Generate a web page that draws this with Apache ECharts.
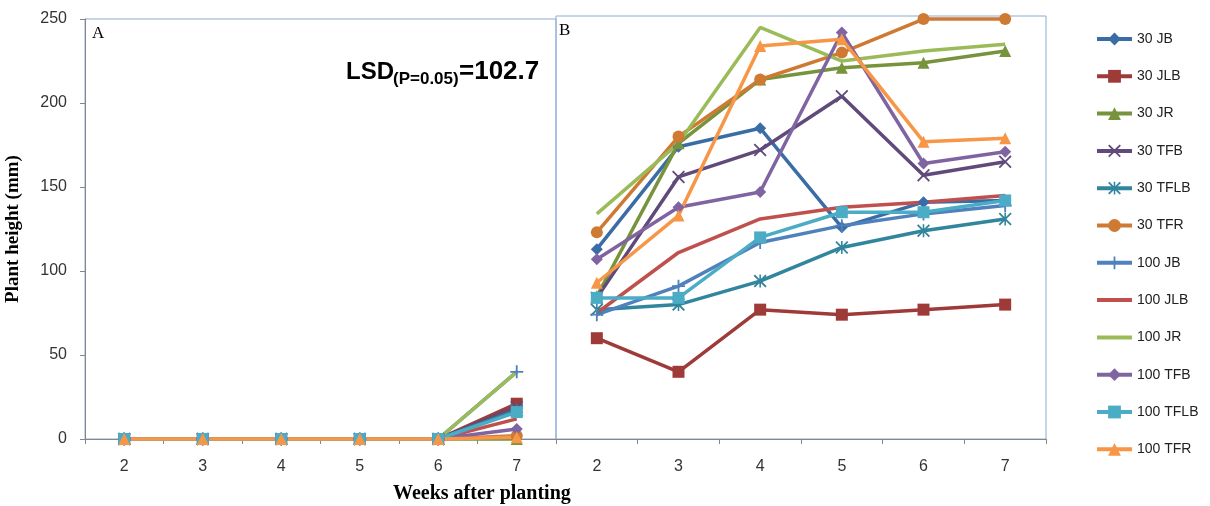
<!DOCTYPE html>
<html>
<head>
<meta charset="utf-8">
<script src="https://cdn.jsdelivr.net/npm/echarts@6/dist/echarts.min.js"></script>
<style>
  html, body { margin: 0; padding: 0; background: #fff; }
  #chart { width: 1210px; height: 506px; }
</style>
</head>
<body>
<div id="chart"></div>
<script>
// Weeks after planting (same for both panels)
const weeks = ['2', '3', '4', '5', '6', '7'];
const yTicks = [0, 50, 100, 150, 200, 250];

// Panel A: plant height (mm)
const a30JB   = [0, 0, 0, 0, 0, 18];
const a30JLB  = [0, 0, 0, 0, 0, 21];
const a30JR   = [0, 0, 0, 0, 0, 0];
const a30TFB  = [0, 0, 0, 0, 0, 19];
const a30TFLB = [0, 0, 0, 0, 0, 17];
const a30TFR  = [0, 0, 0, 0, 0, 2];
const a100JB   = [0, 0, 0, 0, 0, 40];
const a100JLB  = [0, 0, 0, 0, 0, 12];
const a100JR   = [0, 0, 0, 0, 0, 40];
const a100TFB  = [0, 0, 0, 0, 0, 6];
const a100TFLB = [0, 0, 0, 0, 0, 16];
const a100TFR  = [0, 0, 0, 0, 0, 1];

// Panel B: plant height (mm)
const b30JB   = [113, 174, 185, 126, 141, 142];
const b30JLB  = [60, 40, 77, 74, 77, 80];
const b30JR   = [85, 176, 214, 221, 224, 231];
const b30TFB  = [84, 156, 172, 204, 157, 165];
const b30TFLB = [77, 80, 94, 114, 124, 131];
const b30TFR  = [123, 180, 214, 230, 250, 250];
const b100JB   = [74, 91, 117, 127, 134, 139];
const b100JLB  = [75, 111, 131, 138, 141, 145];
const b100JR   = [134, 176, 245, 225, 231, 235];
const b100TFB  = [107, 138, 147, 242, 164, 171];
const b100TFLB = [84, 84, 120, 135, 135, 142];
const b100TFR  = [93, 133, 234, 238, 177, 179];

// Marker shapes
const PLUS = 'path://M4.3,0 H5.7 V4.3 H10 V5.7 H5.7 V10 H4.3 V5.7 H0 V4.3 H4.3 Z';
const CROSS = 'path://M0,1 L1,0 L5,4 L9,0 L10,1 L6,5 L10,9 L9,10 L5,6 L1,10 L0,9 L4,5 Z';
const STAR = 'path://M0,1 L1,0 L5,4 L9,0 L10,1 L6,5 L10,9 L9,10 L5,6 L1,10 L0,9 L4,5 Z M4.4,0 H5.6 V10 H4.4 Z';

const styles = [
  { name: '30 JB',    color: '#3a6ca6', symbol: 'diamond',  size: 12, a: a30JB,    b: b30JB },
  { name: '30 JLB',   color: '#9e3b39', symbol: 'rect',     size: 12, a: a30JLB,   b: b30JLB },
  { name: '30 JR',    color: '#77933c', symbol: 'triangle', size: 12, a: a30JR,    b: b30JR },
  { name: '30 TFB',   color: '#604a7b', symbol: CROSS,      size: 13, a: a30TFB,   b: b30TFB },
  { name: '30 TFLB',  color: '#31859c', symbol: STAR,       size: 13, a: a30TFLB,  b: b30TFLB },
  { name: '30 TFR',   color: '#cf7a33', symbol: 'circle',   size: 12, a: a30TFR,   b: b30TFR },
  { name: '100 JB',   color: '#4f81bd', symbol: PLUS,       size: 13, a: a100JB,   b: b100JB },
  { name: '100 JLB',  color: '#c0504d', symbol: 'none',     size: 0,  a: a100JLB,  b: b100JLB },
  { name: '100 JR',   color: '#9bbb59', symbol: 'none',     size: 0,  a: a100JR,   b: b100JR },
  { name: '100 TFB',  color: '#8064a2', symbol: 'diamond',  size: 12, a: a100TFB,  b: b100TFB },
  { name: '100 TFLB', color: '#4bacc6', symbol: 'rect',     size: 12, a: a100TFLB, b: b100TFLB },
  { name: '100 TFR',  color: '#f79646', symbol: 'triangle', size: 12, a: a100TFR,  b: b100TFR }
];

const series = [];
styles.forEach(function (s) {
  [[0, s.a], [1, s.b]].forEach(function (pair) {
    series.push({
      type: 'line',
      name: s.name,
      xAxisIndex: pair[0],
      yAxisIndex: pair[0],
      data: pair[1],
      symbol: s.symbol,
      symbolSize: s.size,
      showAllSymbol: true,
      clip: false,
      color: s.color,
      lineStyle: { color: s.color, width: 3.5 },
      itemStyle: { color: s.color, borderWidth: 0 },
      emphasis: { disabled: true }
    });
  });
});

// Legend entries: plain line (no marker) for series drawn without symbols
const legendData = styles.map(function (s) {
  return s.symbol === 'none'
    ? { name: s.name, itemStyle: { opacity: 0 } }
    : { name: s.name };
});

const axisGray = '#868686';
const labelFont = { color: '#333', fontSize: 16, fontFamily: 'Liberation Sans' };
const boxBlue = '#8eaad8';

const chart = echarts.init(document.getElementById('chart'), null, { renderer: 'canvas' });
chart.setOption({
  animation: false,
  backgroundColor: '#fff',
  grid: [
    { left: 85, top: 19, width: 471, height: 420, show: true, borderColor: boxBlue, borderWidth: 1, backgroundColor: 'transparent' },
    { left: 556, top: 16, width: 490, height: 423, show: true, borderColor: boxBlue, borderWidth: 1, backgroundColor: 'transparent' }
  ],
  xAxis: [0, 1].map(function (i) {
    return {
      type: 'category',
      gridIndex: i,
      data: weeks,
      boundaryGap: true,
      axisLine: { show: true, lineStyle: { color: axisGray, width: 1 } },
      axisTick: { show: true, inside: false, length: 5, lineStyle: { color: axisGray } },
      axisLabel: Object.assign({ margin: 20 }, labelFont),
      splitLine: { show: false }
    };
  }),
  yAxis: [
    {
      type: 'value',
      gridIndex: 0,
      min: yTicks[0],
      max: yTicks[yTicks.length - 1],
      interval: 50,
      name: 'Plant height (mm)',
      nameLocation: 'middle',
      nameGap: 62,
      nameTextStyle: { fontFamily: 'Liberation Serif', fontWeight: 'bold', fontSize: 19, color: '#000' },
      axisLine: { show: true, lineStyle: { color: axisGray, width: 1 } },
      axisTick: { show: true, inside: false, length: 5, lineStyle: { color: axisGray } },
      axisLabel: Object.assign({ margin: 18 }, labelFont),
      splitLine: { show: false }
    },
    {
      type: 'value',
      gridIndex: 1,
      min: 0,
      max: 251.8,
      show: false,
      splitLine: { show: false }
    }
  ],
  legend: {
    orient: 'vertical',
    left: 1090,
    top: 27,
    itemWidth: 35,
    itemHeight: 16,
    itemGap: 23.3,
    data: legendData,
    lineStyle: { width: 4 },
    textStyle: { color: '#222', fontSize: 14, fontFamily: 'Liberation Sans' },
    selectedMode: false
  },
  graphic: [
    { type: 'text', left: 92, top: 25, style: { text: 'A', font: '17px "Liberation Serif"', fill: '#000' } },
    { type: 'text', left: 559, top: 22, style: { text: 'B', font: '17px "Liberation Serif"', fill: '#000' } },
    { type: 'text', left: 346, top: 60, style: { text: 'LSD', font: 'bold 24px "Liberation Sans"', fill: '#000' } },
    { type: 'text', left: 393, top: 71, style: { text: '(P=0.05)', font: 'bold 17px "Liberation Sans"', fill: '#000' } },
    { type: 'text', left: 459, top: 59, style: { text: '=102.7', font: 'bold 26px "Liberation Sans"', fill: '#000' } },
    { type: 'text', left: 393, top: 484, style: { text: 'Weeks after planting', font: 'bold 20px "Liberation Serif"', fill: '#000' } }
  ],
  series: series
});
</script>
</body>
</html>
